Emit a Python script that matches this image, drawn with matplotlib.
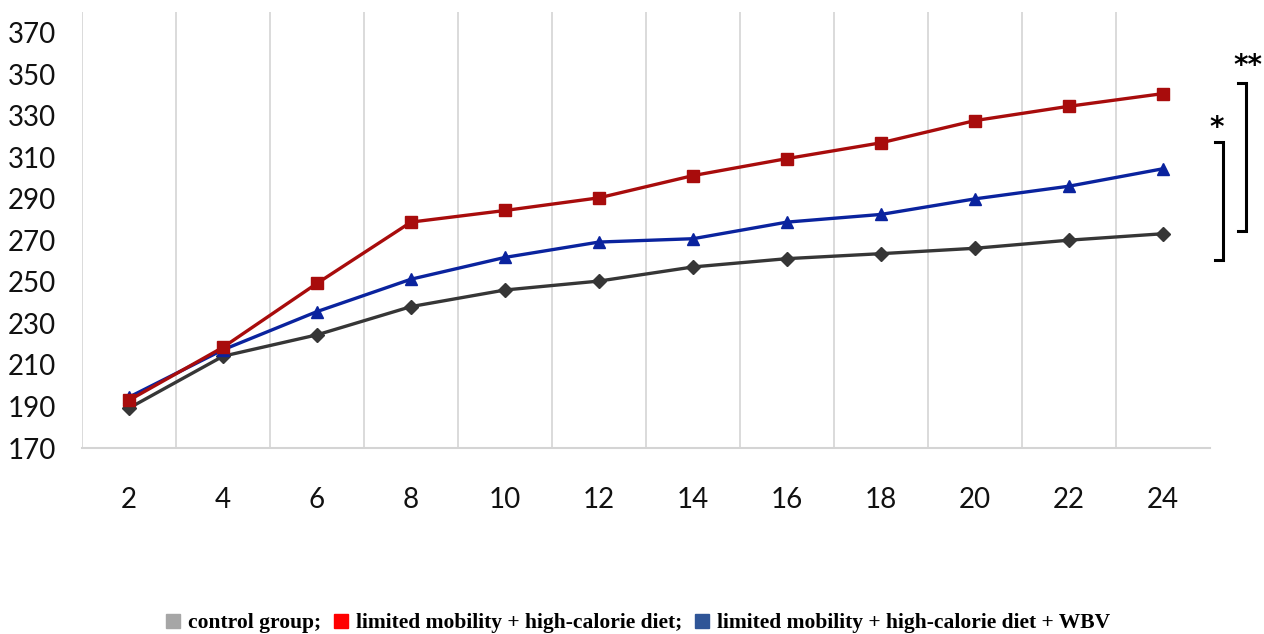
import matplotlib
matplotlib.use("Agg")
import matplotlib.pyplot as plt
from matplotlib.lines import Line2D

weeks = [2, 4, 6, 8, 10, 12, 14, 16, 18, 20, 22, 24]
control = [189.2, 214.2, 224.5, 238.1, 246.1, 250.4, 257.2, 261.2, 263.6, 266.2, 270.1, 273.2]
lm_hcd = [193.0, 218.5, 249.3, 278.8, 284.4, 290.5, 301.2, 309.4, 317.0, 327.7, 334.6, 340.7]
lm_hcd_wbv = [194.5, 217.3, 235.7, 251.3, 261.8, 269.2, 270.8, 278.8, 282.5, 290.0, 296.1, 304.5]
yticks = [170, 190, 210, 230, 250, 270, 290, 310, 330, 350, 370]
legend_labels = ["control group;", "limited mobility + high-calorie diet;",
                 "limited mobility + high-calorie diet + WBV"]
legend_colors = ["#a6a6a6", "#ff0000", "#2f5597"]

tick_font = ["Lato", "DejaVu Sans"]

fig = plt.figure(figsize=(12.64, 6.34), dpi=100)
ax = fig.add_axes([82/1264, 1-448/634, (1210-82)/1264, (448-12)/634])

ax.plot(weeks, control, color="#363636", lw=2.4, marker="D", ms=7, zorder=3)
ax.plot(weeks, lm_hcd_wbv, color="#0a239e", lw=2.4, marker="^", ms=9, zorder=4)
ax.plot(weeks, lm_hcd, color="#a80c0c", lw=2.4, marker="s", ms=8, zorder=5)

ax.set_xlim(1, 25)
ax.set_ylim(170, 380)
ax.set_xticks(weeks)
ax.set_xticklabels([str(w) for w in weeks])
ax.set_xticks(list(range(1, 25, 2)), minor=True)
ax.set_yticks(yticks)
ax.grid(False)
ax.grid(True, which="minor", axis="x", color="#d4d4d4", lw=1.2)
ax.tick_params(which="both", length=0)
ax.tick_params(axis="x", pad=28)
ax.tick_params(axis="y", pad=19)
for lab in ax.get_xticklabels() + ax.get_yticklabels():
    lab.set_family(tick_font)
    lab.set_fontsize(20)
    lab.set_color("#111111")
for s in ["top", "right", "left"]:
    ax.spines[s].set_visible(False)
ax.spines["bottom"].set_color("#d4d4d4")
ax.spines["bottom"].set_linewidth(1.5)

# significance brackets
def bracket(x, y0, y1, txt, tx, ty):
    dx = 0.16
    ax.plot([x - dx, x, x, x - dx], [y1, y1, y0, y0], color="black", lw=2.2,
            clip_on=False, solid_joinstyle="miter")
    ax.text(tx, ty, txt, ha="center", va="center", fontsize=20, fontweight="bold",
            clip_on=False, family="DejaVu Sans")

bracket(25.27, 260.4, 317.6, "*", 25.15, 324)
bracket(25.76, 274.3, 346.0, "**", 25.8, 354)

handles = [Line2D([], [], ls="none", marker="s", ms=10, color=c) for c in legend_colors]
leg = fig.legend(handles, legend_labels, loc="center", bbox_to_anchor=(0.505, 1-623/634),
                 ncol=3, frameon=False, handlelength=0.6, handletextpad=0.4,
                 columnspacing=0.6, borderpad=0.1,
                 prop={"family": "Liberation Serif", "weight": "bold", "size": 15.5})

fig.savefig("out.png", dpi=100)
